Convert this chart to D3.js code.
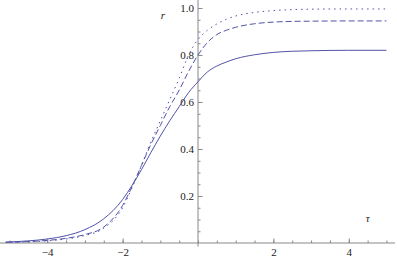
<!DOCTYPE html>
<html lang="en">
<head>
<meta charset="utf-8">
<script src="https://d3js.org/d3.v7.min.js"></script>
<style>
  body { margin: 0; background: #fff; }
  .axis path, .axis line { stroke: #888; }
</style>
</head>
<body>
<div id="chart"></div>
<script>
// tau sample points
const tau = [-5.1, -4.5, -4, -3.5, -3, -2.5, -2, -1.75, -1.5, -1.25, -1, -0.75, -0.5, -0.25,
             0, 0.25, 0.5, 0.75, 1, 1.5, 2, 2.5, 3, 4, 5];

// r values for the three curves
const rSolid  = [0.004, 0.009, 0.017, 0.031, 0.057, 0.103, 0.185, 0.245, 0.312, 0.385, 0.455, 0.52, 0.58, 0.64,
                 0.686, 0.728, 0.753, 0.77, 0.784, 0.801, 0.811, 0.816, 0.818, 0.82, 0.82];
const rDashed = [0.003, 0.006, 0.011, 0.020, 0.036, 0.068, 0.16, 0.24, 0.33, 0.42, 0.50, 0.58, 0.65, 0.73,
                 0.80, 0.853, 0.887, 0.905, 0.918, 0.933, 0.94, 0.943, 0.944, 0.945, 0.945];
const rDotted = [0.002, 0.005, 0.009, 0.017, 0.032, 0.063, 0.15, 0.235, 0.33, 0.43, 0.52, 0.61, 0.70, 0.80,
                 0.866, 0.905, 0.932, 0.952, 0.966, 0.981, 0.989, 0.993, 0.995, 0.996, 0.996];

const xMajor = [-4, -2, 2, 4];
const xMinor = d3.range(-5, 5.01, 0.5);
const yMajor = [0.2, 0.4, 0.6, 0.8, 1.0];
const yMinor = d3.range(0.05, 1.001, 0.05);

const serif = "'Times New Roman', 'Liberation Serif', Times, serif";
const W = 397, H = 261;
const x = d3.scaleLinear().domain([-5.2, 5.2]).range([2, 394]);
const y = d3.scaleLinear().domain([0, 1]).range([243, 8]);

const svg = d3.select("#chart").append("svg")
    .attr("width", W)
    .attr("height", H)
    .style("font-family", serif);

// axes: ticks on the positive side, labels outside
const gx = svg.append("g").attr("class", "axis")
    .attr("transform", `translate(0,${y(0)})`);
gx.call(d3.axisBottom(x).tickValues(xMinor).tickSize(-2.5).tickFormat("").tickSizeOuter(0));
gx.select(".domain").remove();
const gx2 = svg.append("g").attr("class", "axis")
    .attr("transform", `translate(0,${y(0)})`)
    .call(d3.axisBottom(x).tickValues(xMajor).tickSize(-4.5).tickPadding(5).tickFormat(d3.format("d")));
gx2.select(".domain").remove();
svg.append("line")
    .attr("x1", 0).attr("x2", 395)
    .attr("y1", y(0)).attr("y2", y(0))
    .attr("stroke", "#888");

const gy = svg.append("g").attr("class", "axis")
    .attr("transform", `translate(${x(0)},0)`);
gy.call(d3.axisLeft(y).tickValues(yMinor).tickSize(-2.5).tickFormat("").tickSizeOuter(0));
gy.select(".domain").remove();
const gy2 = svg.append("g").attr("class", "axis")
    .attr("transform", `translate(${x(0)},0)`)
    .call(d3.axisLeft(y).tickValues(yMajor).tickSize(-4.5).tickPadding(4).tickFormat(d3.format(".1f")));
gy2.select(".domain").remove();
svg.append("line")
    .attr("x1", x(0)).attr("x2", x(0))
    .attr("y1", y(-0.015)).attr("y2", y(1.035))
    .attr("stroke", "#888");

// d3 axis sets its own sans-serif font: replace it
svg.selectAll(".axis")
    .attr("font-family", null)
    .attr("font-size", 11);
svg.selectAll(".axis text")
    .attr("font-family", serif)
    .attr("fill", "#222");

// axis labels
svg.append("text")
    .attr("x", x(-0.93)).attr("y", y(0.955))
    .attr("text-anchor", "middle")
    .attr("font-family", serif)
    .attr("font-size", 11)
    .attr("font-style", "italic")
    .attr("fill", "#222")
    .text("r");
svg.append("text")
    .attr("x", x(4.5)).attr("y", y(0.09))
    .attr("text-anchor", "middle")
    .attr("font-family", serif)
    .attr("font-size", 11)
    .attr("font-style", "italic")
    .attr("fill", "#222")
    .text("τ");

// curves
const line = d3.line().curve(d3.curveMonotoneX);
const curves = [
  { r: rSolid, dash: null },
  { r: rDashed, dash: "6,3" },
  { r: rDotted, dash: "1.5,4" }
];
svg.selectAll("path.curve")
    .data(curves)
    .join("path")
    .attr("class", "curve")
    .attr("fill", "none")
    .attr("stroke", "#5252a8")
    .attr("stroke-width", 1)
    .attr("stroke-dasharray", d => d.dash)
    .attr("d", d => line(tau.map((t, i) => [x(t), y(d.r[i])])));
</script>
</body>
</html>
